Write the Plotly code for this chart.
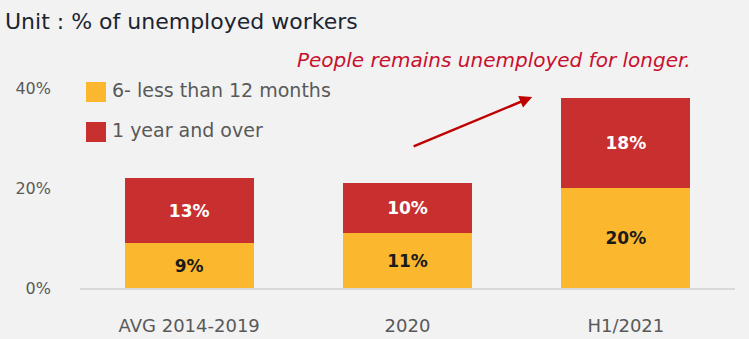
import plotly.graph_objects as go

# Share of unemployed workers by duration of unemployment (%)
categories = ["AVG 2014-2019", "2020", "H1/2021"]
six_to_twelve_months = [9, 11, 20]
one_year_and_over = [13, 10, 18]
series_names = ["6- less than 12 months", "1 year and over"]
y_ticks = [0, 20, 40]
y_tick_labels = ["0%", "20%", "40%"]

YELLOW = "#FBB82F"
RED = "#C82F2F"
GREY = "#595959"
BG = "#F2F2F2"
FONT = "DejaVu Sans"

fig = go.Figure()
fig.add_trace(go.Bar(
    x=categories, y=six_to_twelve_months, name=series_names[0],
    marker=dict(color=YELLOW, line=dict(width=0)),
    text=[f"<b>{v}%</b>" for v in six_to_twelve_months],
    textposition="inside", insidetextanchor="middle", textangle=0,
    textfont=dict(family=FONT, size=17, color="#1a1a1a"),
    showlegend=False,
))
fig.add_trace(go.Bar(
    x=categories, y=one_year_and_over, name=series_names[1],
    marker=dict(color=RED, line=dict(width=0)),
    text=[f"<b>{v}%</b>" for v in one_year_and_over],
    textposition="inside", insidetextanchor="middle", textangle=0,
    textfont=dict(family=FONT, size=17, color="white"),
    showlegend=False,
))

# Plot area geometry (pixels) used to place the hand-drawn legend
W, H = 749, 339
L, R, T, B = 80, 14, 88, 51
pw, ph = W - L - R, H - T - B

def px_x(px):
    return (px - L) / pw

def px_y(py):
    return (H - B - py) / ph

shapes = []
annotations = []
for i, (name, col) in enumerate(zip(series_names, [YELLOW, RED])):
    top = 82 + i * 40
    shapes.append(dict(type="rect", xref="paper", yref="paper",
                       x0=px_x(86), x1=px_x(106), y0=px_y(top + 20), y1=px_y(top),
                       fillcolor=col, line=dict(width=0)))
    annotations.append(dict(xref="paper", yref="paper", x=px_x(110), y=px_y(top + 8),
                            xanchor="left", yanchor="middle", showarrow=False,
                            text=name, font=dict(family=FONT, size=19, color=GREY)))

# Callout text and arrow
annotations.append(dict(xref="paper", yref="paper", x=px_x(494), y=px_y(60),
                        xanchor="center", yanchor="middle", showarrow=False,
                        text="<i>People remains unemployed for longer.</i>",
                        font=dict(family=FONT, size=20, color="#C8102E")))
annotations.append(dict(x=1.571, y=38.2, ax=1.021, ay=28.2,
                        xref="x", yref="y", axref="x", ayref="y",
                        text="", showarrow=True, arrowhead=2, arrowsize=1,
                        arrowwidth=2.5, arrowcolor="#C00000"))

fig.update_layout(
    barmode="stack",
    bargap=0.41,
    width=W, height=H,
    margin=dict(l=L, r=R, t=T, b=B, pad=0),
    paper_bgcolor=BG, plot_bgcolor=BG,
    font=dict(family=FONT, color=GREY),
    title=dict(text="Unit : % of unemployed workers",
               x=5 / W, xref="container", xanchor="left",
               y=1 - 21 / H, yref="container", yanchor="middle",
               font=dict(family=FONT, size=22, color="#1c2431")),
    xaxis=dict(showline=True, linecolor="#D9D9D9", linewidth=1.5,
               showgrid=False, ticks="", ticklabelstandoff=21,
               automargin=False,
               tickfont=dict(family=FONT, size=18, color=GREY),
               range=[-0.5, 2.5]),
    yaxis=dict(range=[0, 40], showgrid=False, zeroline=False, showline=False,
               tickvals=y_ticks, ticktext=y_tick_labels, ticks="",
               ticklabelstandoff=28, automargin=False,
               tickfont=dict(family=FONT, size=16, color=GREY)),
    shapes=shapes,
    annotations=annotations,
    uniformtext=dict(mode=False),
)

fig.write_html("out.html")
